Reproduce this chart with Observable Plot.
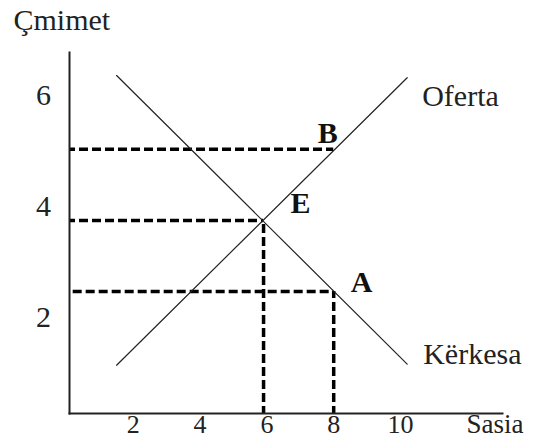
<!DOCTYPE html>
<html><head><meta charset="utf-8">
<script src="https://cdn.jsdelivr.net/npm/d3@7"></script>
<script src="https://cdn.jsdelivr.net/npm/@observablehq/plot@0.6"></script>
<style>html,body{margin:0;padding:0;background:#fff} svg{display:block}</style>
</head><body><div id="chart"></div>
<script>
// Tick labels and titles
const xTicks = [2, 4, 6, 8, 10];
const yTicks = [2, 4, 6];
const xTitle = "Sasia";
const yTitle = "Çmimet";

// Supply (Oferta) and demand (Kërkesa) curves: quantity / price endpoints
const supplyName = "Oferta";
const supplyQ = [1.5, 10.2];
const supplyP = [1.14, 6.32];
const demandName = "Kërkesa";
const demandQ = [1.5, 10.2];
const demandP = [6.36, 1.16];

// Marked points (E = equilibrium, B on supply, A on demand)
const pointNames = ["E", "B", "A"];
const pointQ = [5.9, 8, 8];
const pointP = [3.75, 5.03, 2.47];
const guideStartQ = [0, 0, 0.2];

const supply = supplyQ.map((q, i) => ({q, p: supplyP[i]}));
const demand = demandQ.map((q, i) => ({q, p: demandP[i]}));
const points = pointNames.map((name, i) => ({name, q: pointQ[i], p: pointP[i], q0: guideStartQ[i]}));
const labelOffsets = {E: [37, -17], B: [-6, -16], A: [28, -9]};

const FONT = "'Liberation Serif', 'Times New Roman', serif";
const FS = 30;
const T = {fontFamily: FONT, fontSize: FS, fill: "#222"};

const chart = Plot.plot({
  width: 540,
  height: 438,
  marginLeft: 69,
  marginRight: 38,
  marginTop: 52,
  marginBottom: 25,
  x: {domain: [0, 10], range: [66, 400], axis: null},
  y: {domain: [0, 6], range: [428, 95], axis: null},
  style: {fontFamily: FONT, background: "#fff", color: "#000"},
  marks: [
    // dashed guides
    Plot.ruleY(points, {
      y: "p", x1: "q0", x2: "q", stroke: "#000", strokeWidth: 3.5, strokeDasharray: "9,4", clip: true
    }),
    Plot.ruleX(points.filter(d => d.name !== "B"), {
      x: "q", y1: 0, y2: "p", stroke: "#000", strokeWidth: 3.5, strokeDasharray: "9,4", clip: true
    }),
    // curves
    Plot.line(supply, {x: "q", y: "p", stroke: "#222", strokeWidth: 1.2}),
    Plot.line(demand, {x: "q", y: "p", stroke: "#222", strokeWidth: 1.2}),
    // axes lines
    Plot.frame({anchor: "left", stroke: "#222", strokeWidth: 2}),
    Plot.frame({anchor: "bottom", stroke: "#222", strokeWidth: 2}),
    // curve names
    Plot.text([supply[1]], {x: "q", y: "p", text: () => supplyName, dx: 15, dy: 28,
      textAnchor: "start", lineAnchor: "bottom", ...T}),
    Plot.text([demand[1]], {x: "q", y: "p", text: () => demandName, dx: 16, dy: 0,
      textAnchor: "start", lineAnchor: "bottom", ...T}),
    // point labels
    ...points.map(pt => Plot.text([pt], {x: "q", y: "p", text: "name",
      dx: labelOffsets[pt.name][0], dy: labelOffsets[pt.name][1],
      textAnchor: "middle", lineAnchor: "middle", ...T, fontWeight: "bold", fill: "#111"})),
    // tick labels
    Plot.text(xTicks, {x: d => d, frameAnchor: "bottom", dy: 11, text: d => String(d),
      textAnchor: "middle", lineAnchor: "middle", ...T, fontSize: 26}),
    Plot.text(yTicks, {y: d => d, frameAnchor: "left", dx: -26, text: d => String(d),
      textAnchor: "middle", lineAnchor: "middle", ...T}),
    // axis titles
    Plot.text([yTitle], {frameAnchor: "top-left", dx: -56, dy: -23, text: d => d,
      textAnchor: "start", lineAnchor: "bottom", ...T}),
    Plot.text([xTitle], {frameAnchor: "bottom-right", dx: -36, dy: 11, text: d => d,
      textAnchor: "start", lineAnchor: "middle", ...T, fontSize: 27})
  ]
});

document.getElementById("chart").append(chart);
</script>
</body></html>
